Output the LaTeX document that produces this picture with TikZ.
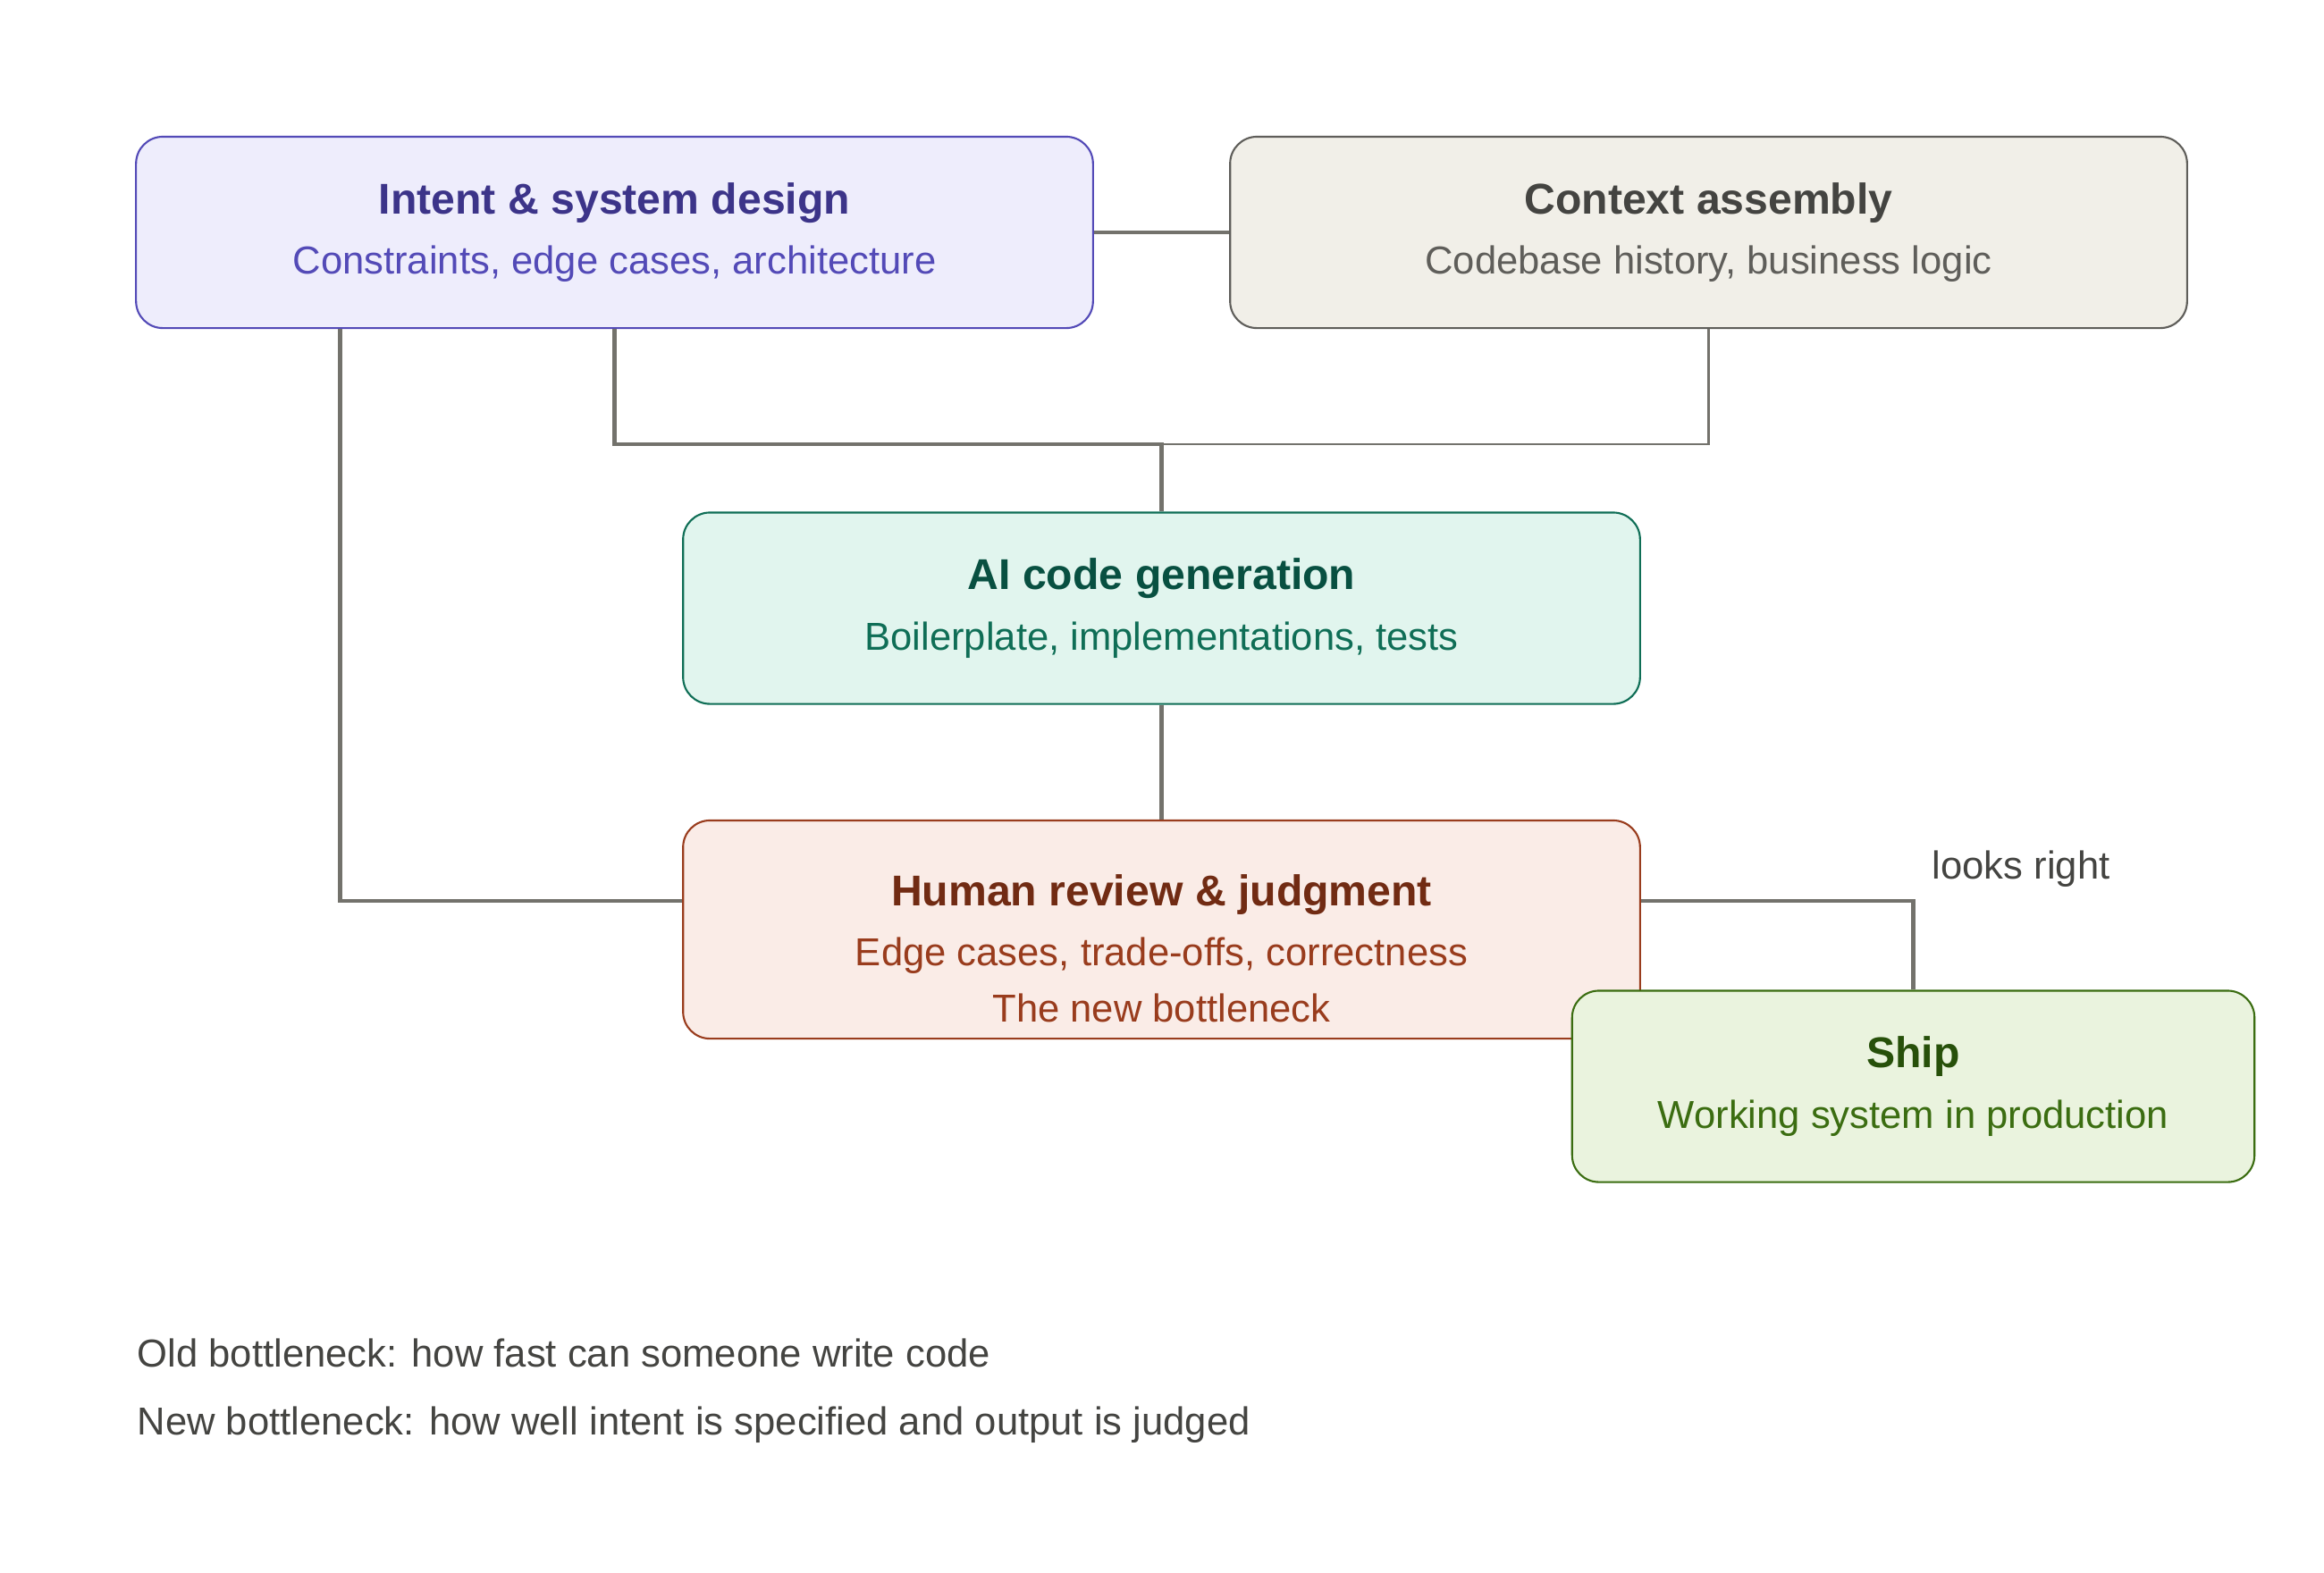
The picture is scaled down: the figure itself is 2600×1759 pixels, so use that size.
\documentclass[tikz,border=0pt]{standalone}
\usepackage{fontspec}
\setmainfont{Liberation Sans}
\definecolor{linkgray}{HTML}{73726C}
\definecolor{notegray}{HTML}{444441}
\definecolor{intentfill}{HTML}{EEEDFC}
\definecolor{intentline}{HTML}{534AB7}
\definecolor{intenttitle}{HTML}{3C3489}
\definecolor{ctxfill}{HTML}{F1EFE8}
\definecolor{ctxline}{HTML}{5F5E5A}
\definecolor{ctxtitle}{HTML}{444441}
\definecolor{aifill}{HTML}{E1F5EE}
\definecolor{ailine}{HTML}{0F6E56}
\definecolor{aititle}{HTML}{085041}
\definecolor{revfill}{HTML}{FAECE7}
\definecolor{revline}{HTML}{993C1D}
\definecolor{revtitle}{HTML}{712B13}
\definecolor{shipfill}{HTML}{EAF3DE}
\definecolor{shipline}{HTML}{3B6D11}
\definecolor{shiptitle}{HTML}{27500A}
\newcommand{\boxtitle}[2]{{\color{#1}\fontsize{13.7}{18}\selectfont\bfseries #2}\\[1.1pt]}
\begin{document}
\begin{tikzpicture}[x=0.01cm,y=-0.01cm]
    \tikzstyle{box}=[rounded corners=0.3cm, line width=0.6pt, align=center, inner sep=0pt,
      minimum width=10.7cm, minimum height=2.14cm, font=\fontsize{12.4}{18}\selectfont]
    \tikzstyle{link}=[draw=linkgray, line width=1.3pt]
    \tikzstyle{note}=[anchor=west, text=notegray, inner sep=0pt, font=\fontsize{12.4}{18}\selectfont]
    \useasboundingbox (0,0) rectangle (2600,1759);
    % top row
    \node[box, fill=intentfill, draw=intentline, text=intentline] (intent) at (687.5,260)
      {\boxtitle{intenttitle}{Intent \& system design}Constraints, edge cases, architecture};
    \node[box, fill=ctxfill, draw=ctxline, text=ctxline] (context) at (1911.5,260)
      {\boxtitle{ctxtitle}{Context assembly}Codebase history, business logic};
    \node[box, fill=aifill, draw=ailine, text=ailine] (aigen) at (1299.5,680.5)
      {\boxtitle{aititle}{AI code generation}Boilerplate, implementations, tests};
    % text sits a little low in this one
    \node[box, fill=revfill, draw=revline, text=revline, minimum height=2.44cm] (review) at (1299.5,1040)
      {\rule{0pt}{22pt}\boxtitle{revtitle}{Human review \& judgment}Edge cases, trade-offs, correctness\\The new bottleneck};
    \coordinate (join) at (1299.5,497);
    % connectors
    \draw[link] (intent) -- (context);
    \draw[link] (intent.south) |- (join) -- (aigen.north);
    \draw[draw=linkgray, line width=0.6pt] (context.south) |- (join);
    \draw[link] (aigen) -- (review);
    \draw[link] ([xshift=2.29cm]intent.south west) |- ([yshift=0.32cm]review.west);
    \node[box, fill=shipfill, draw=shipline, text=shipline, minimum width=7.63cm] (ship) at (2140.5,1215.5)
      {\boxtitle{shiptitle}{Ship}Working system in production};
    \draw[link] ([yshift=0.32cm]review.east) -| (ship.north);
    \node[note] (looks) at (2161,972) {looks right};
    % footer
    \node[note] (oldneck) at (153,1514) {Old bottleneck: how fast can someone write code};
    \node[note] (newneck) at (153,1594) {New bottleneck: how well intent is specified and output is judged};
\end{tikzpicture}
\end{document}
